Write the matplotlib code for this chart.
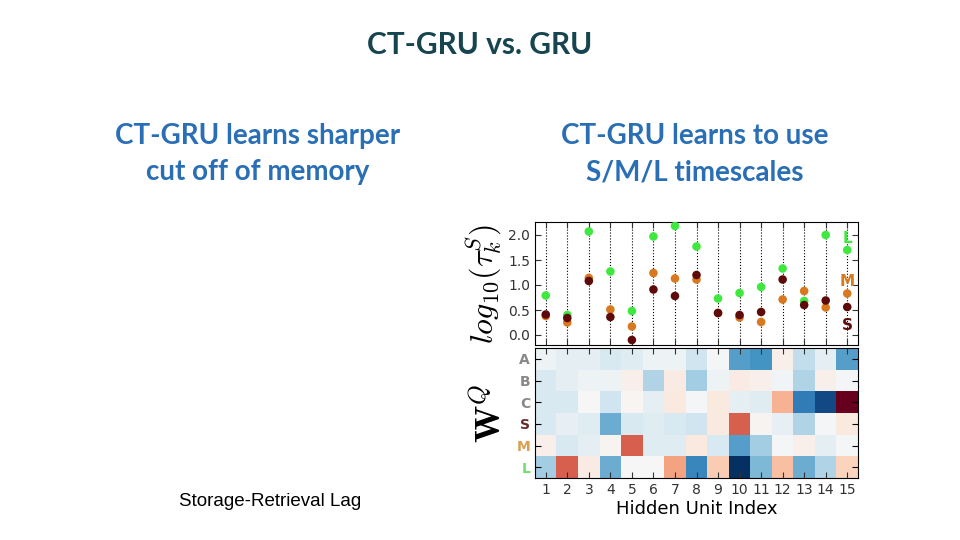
import numpy as np
import matplotlib
matplotlib.use('Agg')
import matplotlib.pyplot as plt

plt.rcParams['mathtext.fontset'] = 'cm'

# slide texte
title = "CT-GRU vs. GRU"
left_head = "CT-GRU learns sharper\ncut off of memory"
right_head = "CT-GRU learns to use\nS/M/L timescales"
left_xlabel = "Storage-Retrieval Lag"

units = np.arange(1, 16)
# log10 tau per hidden unit
tau_L = [0.79, 0.40, 2.07, 1.27, 0.48, 1.97, 2.18, 1.77, 0.73, 0.84, 0.96, 1.33, 0.68, 2.00, 1.70]
tau_M = [0.38, 0.25, 1.14, 0.51, 0.17, 1.24, 1.13, 1.11, 0.44, 0.35, 0.26, 0.71, 0.88, 0.55, 0.83]
tau_S = [0.41, 0.34, 1.08, 0.36, -0.10, 0.91, 0.78, 1.20, 0.44, 0.40, 0.46, 1.11, 0.60, 0.69, 0.56]

row_labels = ["A", "B", "C", "S", "M", "L"]
W_A = [-0.05, -0.10, -0.10, -0.15, -0.12, -0.05, -0.05, -0.20, -0.02, -0.55, -0.60, 0.05, -0.25, -0.10, -0.55]
W_B = [-0.15, -0.10, -0.05, -0.05, 0.05, -0.30, 0.08, -0.35, -0.05, 0.08, 0.05, -0.03, -0.30, 0.05, -0.02]
W_C = [-0.15, -0.15, 0.00, -0.20, 0.02, -0.10, 0.10, -0.02, 0.10, -0.10, -0.12, 0.35, -0.70, -0.90, 1.00]
W_S = [-0.15, -0.08, -0.12, -0.50, -0.15, -0.12, -0.15, -0.20, 0.10, 0.60, 0.03, -0.08, -0.30, -0.02, 0.10]
W_M = [0.05, -0.15, -0.10, 0.03, 0.60, -0.12, -0.12, 0.10, -0.15, -0.55, -0.35, -0.02, 0.05, -0.10, -0.02]
W_L = [-0.35, 0.60, 0.08, -0.50, 0.00, 0.00, 0.40, -0.65, 0.25, -1.00, -0.45, 0.30, -0.50, -0.30, 0.22]

c_L = '#3ee83e'
c_M = '#d9781e'
c_S = '#5e0a0a'
lab_cols = ['#888888', '#888888', '#888888', '#6b2a2a', '#d9a050', '#6ee26e']

fig = plt.figure(figsize=(9.6, 5.4), dpi=100)
fig.patch.set_facecolor('white')

fig.text(0.5, 1 - 45 / 540, title, ha='center', va='center', fontsize=21.5,
         family='Lato', weight='bold', color='#17454f')
fig.text(258 / 960, 1 - 154 / 540, left_head, ha='center', va='center', fontsize=20,
         family='Lato', weight='bold', color='#2a6fb5', linespacing=1.5)
fig.text(695 / 960, 1 - 154 / 540, right_head, ha='center', va='center', fontsize=20,
         family='Lato', weight='bold', color='#2a6fb5', linespacing=1.5)
fig.text(270 / 960, 1 - 501 / 540, left_xlabel, ha='center', va='center', fontsize=13.5,
         family='Liberation Sans', color='black')

# scatter des constantes de temps
ax1 = fig.add_axes([535 / 960, 1 - 345 / 540, 323 / 960, 123 / 540])
for u in units:
    ax1.axvline(u, color='black', ls=':', lw=0.8, zorder=0)
ax1.scatter(units, tau_L, s=38, color=c_L, zorder=3, edgecolors='none')
ax1.scatter(units, tau_M, s=38, color=c_M, zorder=3, edgecolors='none')
ax1.scatter(units, tau_S, s=38, color=c_S, zorder=4, edgecolors='none')
ax1.set_xlim(0.5, 15.5)
ax1.set_ylim(-0.2, 2.26)
ax1.set_yticks([0.0, 0.5, 1.0, 1.5, 2.0])
ax1.set_yticklabels(['0.0', '0.5', '1.0', '1.5', '2.0'])
ax1.set_xticks(units)
ax1.set_xticklabels([])
ax1.tick_params(direction='in', top=True, right=True, labelsize=10, colors='#333333', length=4)
ax1.text(14.5 / 15, 0.93, 'L', transform=ax1.transAxes, ha='center', va='top',
         color=c_L, fontsize=11, weight='bold')
ax1.text(14.5 / 15, 0.58, 'M', transform=ax1.transAxes, ha='center', va='top',
         color=c_M, fontsize=11, weight='bold')
ax1.text(14.5 / 15, 0.22, 'S', transform=ax1.transAxes, ha='center', va='top',
         color=c_S, fontsize=11, weight='bold')
ax1.set_ylabel(r'$log_{10}(\tau_k^S)$', fontsize=23, labelpad=3)

# heatmap W^Q
W = np.array([W_A, W_B, W_C, W_S, W_M, W_L])
ax2 = fig.add_axes([535 / 960, 1 - 478 / 540, 323 / 960, 130 / 540])
ax2.imshow(W, cmap='RdBu_r', vmin=-1, vmax=1, aspect='auto', interpolation='nearest',
           extent=(0.5, 15.5, 5.5, -0.5))
ax2.set_xticks(units)
ax2.set_xticklabels([str(u) for u in units])
ax2.set_yticks(range(6))
ax2.set_yticklabels(row_labels)
for t, c in zip(ax2.get_yticklabels(), lab_cols):
    t.set_color(c)
    t.set_fontweight('bold')
ax2.tick_params(direction='in', top=True, right=True, labelsize=10, length=4)
ax2.tick_params(axis='x', colors='#333333')
ax2.set_xlabel('Hidden Unit Index', fontsize=13, labelpad=2)
ax2.set_ylabel(r'$\mathbf{W}^Q$', fontsize=26, labelpad=6)

fig.savefig('out.png', dpi=100)
